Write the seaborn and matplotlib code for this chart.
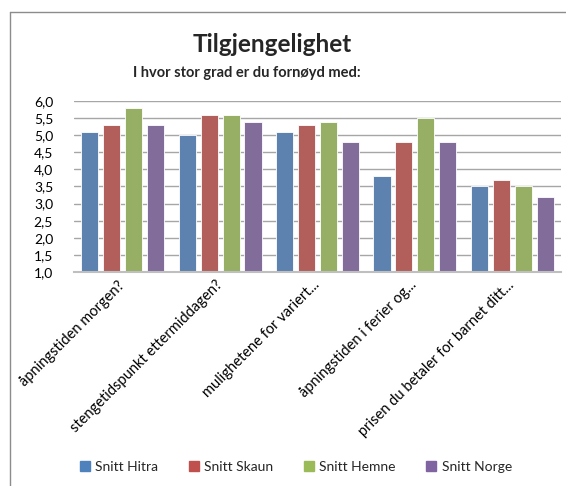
"""
Tilgjengelighet - grouped bar chart of average satisfaction per area.
"""

import matplotlib
matplotlib.use("Agg")
import matplotlib.pyplot as plt
import matplotlib.ticker as mticker
import pandas as pd
import seaborn as sns

# Data
questions = [
    "åpningstiden morgen?",
    "stengetidspunkt ettermiddagen?",
    "mulighetene for variert...",
    "åpningstiden i ferier og...",
    "prisen du betaler for barnet ditt...",
]
areas = ["Snitt Hitra", "Snitt Skaun", "Snitt Hemne", "Snitt Norge"]
hitra = [5.1, 5.0, 5.1, 3.8, 3.5]
skaun = [5.3, 5.6, 5.3, 4.8, 3.7]
hemne = [5.8, 5.6, 5.4, 5.5, 3.5]
norge = [5.3, 5.4, 4.8, 4.8, 3.2]
y_ticks = [1.0, 1.5, 2.0, 2.5, 3.0, 3.5, 4.0, 4.5, 5.0, 5.5, 6.0]

colors = ["#4F81BD", "#C0504D", "#9BBB59", "#8064A2"]

rows = []
for area, vals in zip(areas, [hitra, skaun, hemne, norge]):
    for q, v in zip(questions, vals):
        rows.append({"sporsmal": q, "snitt": v, "omrade": area})
df = pd.DataFrame(rows)

sns.set_style("white")
plt.rcParams["font.family"] = ["Lato", "DejaVu Sans"]

W, H = 566, 486
fig = plt.figure(figsize=(W / 100, H / 100), dpi=100)
ax = fig.add_axes([74 / W, 1 - 272 / H, (561 - 74) / W, (272 - 101) / H])

sns.barplot(
    data=df, x="sporsmal", y="snitt", hue="omrade",
    palette=colors, width=0.9, gap=0.22, ax=ax,
    edgecolor="white", linewidth=0.6, legend=False,
)

ax.set_ylim(1.0, 6.0)
ax.set_yticks(y_ticks)
ax.yaxis.set_major_formatter(
    mticker.FuncFormatter(lambda v, _: f"{v:.1f}".replace(".", ","))
)
ax.yaxis.grid(True, color="#A6A6A6", linewidth=1.0)
ax.set_axisbelow(True)
for side in ["top", "right", "left"]:
    ax.spines[side].set_visible(False)
ax.spines["bottom"].set_color("#BFBFBF")
ax.spines["bottom"].set_linewidth(1.5)
ax.tick_params(axis="both", length=0, colors="black")
ax.tick_params(axis="y", pad=15, labelsize=10)
ax.tick_params(axis="x", pad=8, labelsize=10.5)
ax.set_xlabel("")
ax.set_ylabel("")
plt.setp(ax.get_xticklabels(), rotation=45, ha="right", va="center",
         rotation_mode="anchor")

# Titles
fig.text(272 / W, 1 - 45 / H, "Tilgjengelighet", ha="center", va="center",
         fontsize=17.5, fontweight="bold")
fig.text(247 / W, 1 - 73 / H, "I hvor stor grad er du fornøyd med:",
         ha="center", va="center", fontsize=10.5, fontweight="bold")

# Legend
handles = [plt.Rectangle((0, 0), 1, 1, color=c) for c in colors]
fig.legend(handles, areas, loc="center", ncol=4, frameon=False,
           bbox_to_anchor=(296 / W, 1 - 467 / H), fontsize=10,
           handlelength=0.7, handleheight=0.7, handletextpad=0.4,
           columnspacing=2.2)

# Chart frame (left and top edges are visible in the reference)
fig.add_artist(plt.Line2D([10 / W, 10 / W], [0, 1 - 12 / H],
                          transform=fig.transFigure, color="#8C8C8C", lw=1))
fig.add_artist(plt.Line2D([10 / W, 1], [1 - 12 / H, 1 - 12 / H],
                          transform=fig.transFigure, color="#8C8C8C", lw=1))

fig.savefig("out.png", dpi=100)
